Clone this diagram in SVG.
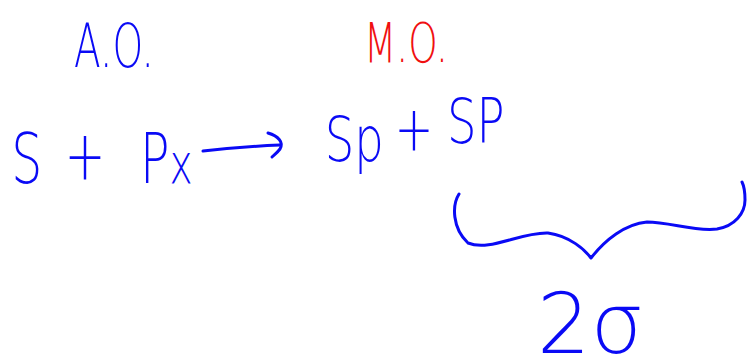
<svg xmlns="http://www.w3.org/2000/svg" width="753" height="360" viewBox="0 0 753 360">
<style>
.t{font-family:"DejaVu Sans","Liberation Sans",sans-serif;font-weight:200;fill:#0a0af5}
.r{fill:#f01010}
.ln{fill:none;stroke:#0a0af5;stroke-width:3;stroke-linecap:round;stroke-linejoin:round}
</style>
<rect width="753" height="360" fill="#fff"/>
<g id="ao"><text class="t" x="74" y="67" font-size="60" textLength="80" lengthAdjust="spacingAndGlyphs">A.O.</text></g>
<g id="mo"><text class="t r" x="364" y="62" font-size="56" textLength="84" lengthAdjust="spacingAndGlyphs">M.O.</text></g>
<g id="reactants"><text class="t" font-size="70" transform="translate(0,183) scale(0.7,1)"><tspan x="16" y="0">S </tspan><tspan x="92" y="-4">+ </tspan><tspan x="200" y="0">P</tspan><tspan font-size="56">x</tspan></text></g>
<g id="products"><text class="t" font-size="62" transform="scale(0.75,1)"><tspan x="433" y="161">Sp </tspan><tspan x="526" y="150">+ </tspan><tspan x="596" y="143">SP</tspan></text></g>
<g id="result"><text class="t" font-size="84" x="537" y="353">2σ</text></g>
<g id="connectors">
<path class="ln" d="M203 151 C230 148 255 146 280 145"/>
<path class="ln" d="M268 133 C278 136 284 142 280 149 C277 153 274 155 272 157"/>
<path class="ln" d="M459 194 C452 205 452 228 468 243 C490 252 520 232 548 233 C570 236 585 250 591 258 C605 240 625 224 647 222 C670 222 695 232 717 229 C735 226 745 213 745 200 C745 192 744 186 742 182"/>
</g>
</svg>
